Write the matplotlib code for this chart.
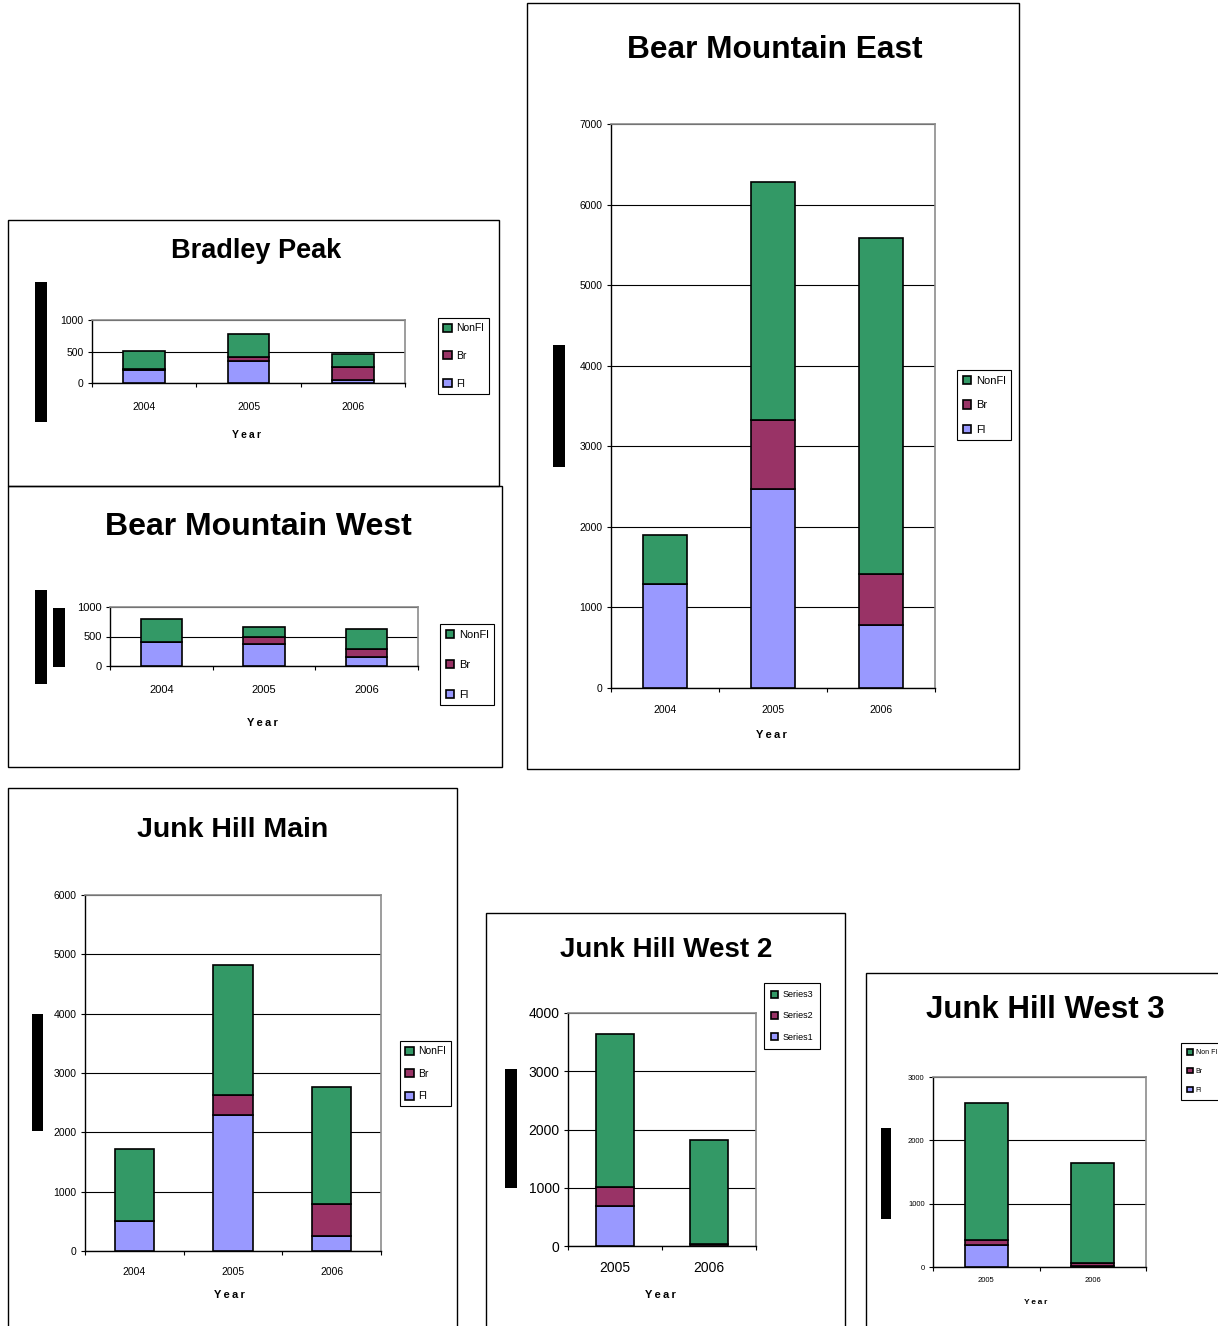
import matplotlib.pyplot as plt
from matplotlib.patches import Patch, Rectangle

W, H = 1218, 1326

FL_COLOR = "#9999ff"
BR_COLOR = "#993366"
NONFL_COLOR = "#339966"

years_3 = ["2004", "2005", "2006"]
years_2 = ["2005", "2006"]

bradley_fl = [205, 355, 40]
bradley_br = [10, 65, 210]
bradley_nonfl = [290, 360, 210]

bmw_fl = [410, 365, 155]
bmw_br = [5, 135, 125]
bmw_nonfl = [380, 165, 340]

bme_fl = [1290, 2470, 780]
bme_br = [0, 860, 640]
bme_nonfl = [615, 2945, 4160]

jhm_fl = [510, 2285, 255]
jhm_br = [0, 350, 545]
jhm_nonfl = [1205, 2190, 1965]

jhw2_s1 = [690, 0]
jhw2_s2 = [325, 30]
jhw2_s3 = [2620, 1790]

jhw3_fl = [345, 10]
jhw3_br = [80, 55]
jhw3_nonfl = [2160, 1580]

FONT = ["Liberation Sans", "DejaVu Sans"]
plt.rcParams["font.family"] = FONT


def fx(x):
    return x / W


def fy(y):
    return 1 - y / H


def px_rect(x0, y0, x1, y1):
    return [fx(x0), fy(y1), (x1 - x0) / W, (y1 - y0) / H]


def add_box(fig, x0, y0, x1, y1, lw=1.0):
    fig.add_artist(Rectangle((fx(x0), fy(y1)), (x1 - x0) / W, (y1 - y0) / H,
                             transform=fig.transFigure, fill=False,
                             edgecolor="black", linewidth=lw))


def add_bar_mark(fig, x0, y0, x1, y1):
    fig.add_artist(Rectangle((fx(x0), fy(y1)), (x1 - x0) / W, (y1 - y0) / H,
                             transform=fig.transFigure, facecolor="black",
                             edgecolor="none"))


def spaced(text):
    return "\u2009".join(text)


def draw_panel(fig, title, box, title_pos, title_size, axes_px, years,
               series, labels, ymax, ystep, tick_size, xpad,
               legend_pos, legend_size, legend_spacing, year_pos, year_size,
               legend_pad=0.5):
    add_box(fig, *box)
    fig.text(fx(title_pos[0]), fy(title_pos[1]), title, ha="center",
             va="center", fontsize=title_size, fontweight="bold")

    ax = fig.add_axes(px_rect(*axes_px))
    x = list(range(len(years)))
    bottom = [0] * len(years)
    colors = [FL_COLOR, BR_COLOR, NONFL_COLOR]
    for values, color in zip(series, colors):
        ax.bar(x, values, width=0.4, bottom=bottom, color=color,
               edgecolor="black", linewidth=1.2, zorder=3)
        bottom = [b + v for b, v in zip(bottom, values)]

    ax.set_xlim(-0.5, len(years) - 0.5)
    ax.set_ylim(0, ymax)
    ax.set_yticks(range(0, ymax + 1, ystep))
    ax.yaxis.grid(True, color="black", linewidth=0.8)
    ax.set_axisbelow(True)

    ax.set_xticks([i - 0.5 for i in range(len(years) + 1)])
    ax.set_xticklabels([])
    ax.set_xticks(x, minor=True)
    ax.set_xticklabels(years, minor=True)
    ax.tick_params(axis="x", which="major", direction="out", length=3,
                   width=0.8)
    ax.tick_params(axis="x", which="minor", length=0, pad=xpad,
                   labelsize=tick_size)
    ax.tick_params(axis="y", direction="out", length=3, width=0.8,
                   labelsize=tick_size, pad=3)

    for side in ("left", "bottom"):
        ax.spines[side].set_color("black")
        ax.spines[side].set_linewidth(1.0)
    for side in ("top", "right"):
        ax.spines[side].set_color("#8c8c8c")
        ax.spines[side].set_linewidth(1.2)

    # legend lists the top segment first, as the stack reads
    handles = [Patch(facecolor=c, edgecolor="black", linewidth=1.2)
               for c in reversed(colors)]
    leg = fig.legend(handles, list(reversed(labels)), loc="upper left",
                     bbox_to_anchor=(fx(legend_pos[0]), fy(legend_pos[1])),
                     borderaxespad=0, fontsize=legend_size,
                     handlelength=0.8, handleheight=0.8, handletextpad=0.4,
                     labelspacing=legend_spacing, borderpad=legend_pad,
                     fancybox=False, framealpha=1)
    leg.get_frame().set_edgecolor("black")
    leg.get_frame().set_linewidth(0.8)

    fig.text(fx(year_pos[0]), fy(year_pos[1]), spaced("Year"), ha="center",
             va="center", fontsize=year_size, fontweight="bold")
    return ax


fig = plt.figure(figsize=(W / 100, H / 100), dpi=100)

draw_panel(fig, "Bradley Peak", (8, 220, 499, 486), (256, 251), 19.5,
           (92, 320, 405, 383), years_3,
           [bradley_fl, bradley_br, bradley_nonfl], ["Fl", "Br", "NonFl"],
           1000, 500, 7.5, 13.5, (438, 318), 7.5, 1.7, (246, 435), 7.5)
add_bar_mark(fig, 35, 282, 47, 422)

draw_panel(fig, "Bear Mountain West", (8, 486, 502, 767), (258, 527), 23,
           (110, 607, 418, 666), years_3,
           [bmw_fl, bmw_br, bmw_nonfl], ["Fl", "Br", "NonFl"],
           1000, 500, 8, 14, (440, 624), 8, 1.8, (262, 723), 8)
add_bar_mark(fig, 35, 590, 47, 684)
add_bar_mark(fig, 53, 608, 65, 667)

draw_panel(fig, "Bear Mountain East", (527, 3, 1019, 769), (775, 50), 22.8,
           (611, 124, 935, 688), years_3,
           [bme_fl, bme_br, bme_nonfl], ["Fl", "Br", "NonFl"],
           7000, 1000, 7.5, 12, (957, 370), 8, 1.3, (771, 735), 8)
add_bar_mark(fig, 553, 345, 565, 467)

draw_panel(fig, "Junk Hill Main", (8, 788, 457, 1340), (233, 830), 20.5,
           (85, 895, 381, 1251), years_3,
           [jhm_fl, jhm_br, jhm_nonfl], ["Fl", "Br", "NonFl"],
           6000, 1000, 7.5, 11.5, (400, 1041), 7.5, 1.2, (229, 1295), 8)
add_bar_mark(fig, 32, 1014, 43, 1131)

draw_panel(fig, "Junk Hill West 2", (486, 913, 845, 1340), (666, 950), 20,
           (568, 1013, 756, 1246), years_2,
           [jhw2_s1, jhw2_s2, jhw2_s3], ["Series1", "Series2", "Series3"],
           4000, 1000, 10, 10.5, (764, 983), 6.5, 1.35, (660, 1295), 8,
           legend_pad=0.8)
add_bar_mark(fig, 505, 1069, 517, 1188)

draw_panel(fig, "Junk Hill West 3", (866, 973, 1230, 1340), (1045, 1010), 22.5,
           (933, 1077, 1146, 1267), years_2,
           [jhw3_fl, jhw3_br, jhw3_nonfl], ["Fl", "Br", "Non Fl"],
           3000, 1000, 5.5, 7, (1181, 1043), 5, 1.7, (1036, 1303), 6,
           legend_pad=0.9)
add_bar_mark(fig, 881, 1128, 891, 1219)

fig.savefig("out.png", dpi=100)
